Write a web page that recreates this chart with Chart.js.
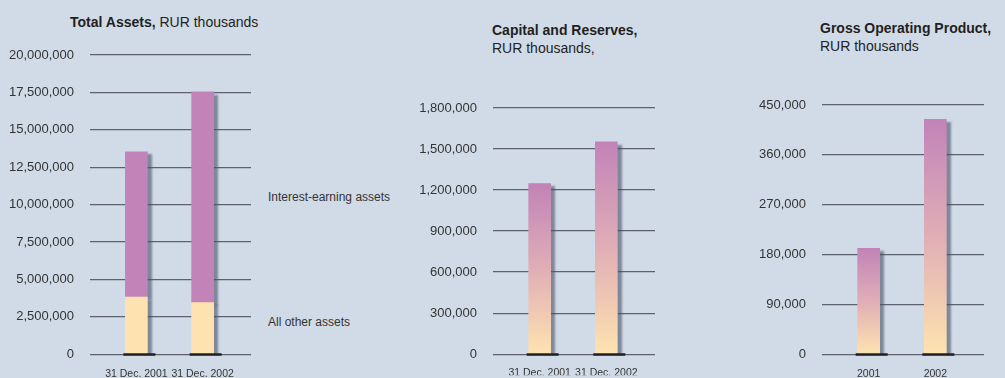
<!DOCTYPE html>
<html>
<head>
<meta charset="utf-8">
<script src="https://cdn.jsdelivr.net/npm/chart.js@4.4.1/dist/chart.umd.min.js"></script>
<style>
body{margin:0;background:#d1dbe8;}
#wrap{position:relative;width:1005px;height:378px;overflow:hidden;background:#d1dbe8;font-family:"Liberation Sans",Arial,sans-serif;color:#231f20;}
canvas{position:absolute;top:0;}
.titulo{position:absolute;font-size:14px;line-height:18px;white-space:nowrap;}
.leyenda{position:absolute;font-size:12px;line-height:14px;color:#333;white-space:nowrap;}
</style>
</head>
<body>
<div id="wrap">
  <div class="titulo" style="left:70px;top:13px;"><b>Total Assets,</b> RUR thousands</div>
  <div class="titulo" style="left:492px;top:21px;"><b>Capital and Reserves,</b><br>RUR thousands,</div>
  <div class="titulo" style="left:820px;top:19px;"><b>Gross Operating Product,</b><br>RUR thousands</div>
  <div class="leyenda" style="left:268px;top:190px;">Interest-earning assets</div>
  <div class="leyenda" style="left:268px;top:315px;">All other assets</div>
  <canvas id="g1" width="265" height="378" style="left:0px"></canvas>
  <canvas id="g2" width="265" height="378" style="left:400px"></canvas>
  <canvas id="g3" width="275" height="378" style="left:730px"></canvas>
</div>
<script>
// datos (RUR thousands)
const fechas = ["31 Dec. 2001", "31 Dec. 2002"];
const otrosActivos = [3820000, 3450000];
const activosInteres = [9710000, 14080000];
const capitalReservas = [1248000, 1552000];
const anios = ["2001", "2002"];
const productoOperativo = [191000, 424000];

const fuente = '"Liberation Sans",Arial,sans-serif';
const morado = "#c283b8";
const amarillo = "#fee2b0";

function puntos(valores){
    return valores.map((v,i) => ({x:i, y:v}));
}

function degradado(c){
    const chart = c.chart;
    if (!chart.chartArea || c.type !== "data") return "#dca7b7";
    const y = chart.scales.y;
    const arriba = y.getPixelForValue(c.raw.y);
    const abajo = y.getPixelForValue(0);
    const g = chart.ctx.createLinearGradient(0, arriba, 0, abajo);
    g.addColorStop(0, "#c283b8");
    g.addColorStop(0.5, "#e0aeb6");
    g.addColorStop(1, "#fee3b0");
    return g;
}

// sombra a la derecha de las barras + linea negra en la base
const sombra = {
    id: "sombra",
    beforeDatasetsDraw(chart){
        const ctx = chart.ctx;
        ctx.save();
        ctx.shadowColor = "rgba(70,80,100,0.6)";
        ctx.shadowOffsetX = 4;
        ctx.shadowOffsetY = 3;
        ctx.shadowBlur = 2;
    },
    afterDatasetsDraw(chart){
        const ctx = chart.ctx;
        ctx.restore();
        const meta = chart.getDatasetMeta(0);
        ctx.save();
        ctx.strokeStyle = "#1f1f24";
        ctx.lineWidth = 2.5;
        meta.data.forEach(b => {
            const y = b.base + 1;
            ctx.beginPath();
            ctx.moveTo(b.x - b.width/2 - 2, y);
            ctx.lineTo(b.x + b.width/2 + 8, y);
            ctx.stroke();
        });
        ctx.restore();
    }
};

function opciones(cfg){
    return {
        responsive: false,
        animation: false,
        layout: {padding: {top: cfg.top, right: cfg.right, left: 0, bottom: 0}},
        plugins: {legend: {display: false}, tooltip: {enabled: false}},
        scales: {
            x: {
                type: "linear", min: -0.7, max: 1.73, offset: false, stacked: true,
                grid: {display: false, drawTicks: false}, border: {display: false},
                afterBuildTicks: s => { s.ticks = cfg.labels.map((l,i) => ({value: i})); },
                afterFit: s => { s.height = cfg.xAlto; },
                ticks: {padding: cfg.xPad, color: "#333", font: {family: fuente, size: 10.5},
                        autoSkip: false, maxRotation: 0, callback: v => cfg.labels[v]}
            },
            y: {
                min: 0, max: cfg.max, stacked: true,
                afterFit: s => { s.width = cfg.yAncho; },
                grid: {color: "#5d616c", lineWidth: 1.3, drawTicks: false},
                border: {display: false},
                ticks: {stepSize: cfg.paso, padding: 16, color: "#333",
                        font: {family: fuente, size: 13},
                        callback: v => v.toLocaleString("en-US")}
            }
        }
    };
}

new Chart(document.getElementById("g1"), {
    type: "bar",
    data: {
        datasets: [
            {data: puntos(otrosActivos), backgroundColor: amarillo, barThickness: 22},
            {data: puntos(activosInteres), backgroundColor: morado, barThickness: 22}
        ]
    },
    options: opciones({labels: fechas, max: 20000000, paso: 2500000, top: 55, right: 14, yAncho: 90, xAlto: 23, xPad: 14}),
    plugins: [sombra]
});

new Chart(document.getElementById("g2"), {
    type: "bar",
    data: {
        datasets: [{data: puntos(capitalReservas), backgroundColor: degradado, barThickness: 22}]
    },
    options: opciones({labels: fechas, max: 1800000, paso: 300000, top: 108, right: 10, yAncho: 93, xAlto: 21, xPad: 13}),
    plugins: [sombra]
});

new Chart(document.getElementById("g3"), {
    type: "bar",
    data: {
        datasets: [{data: puntos(productoOperativo), backgroundColor: degradado, barThickness: 22}]
    },
    options: opciones({labels: anios, max: 450000, paso: 90000, top: 105, right: 21, yAncho: 92, xAlto: 23, xPad: 14}),
    plugins: [sombra]
});
</script>
</body>
</html>
